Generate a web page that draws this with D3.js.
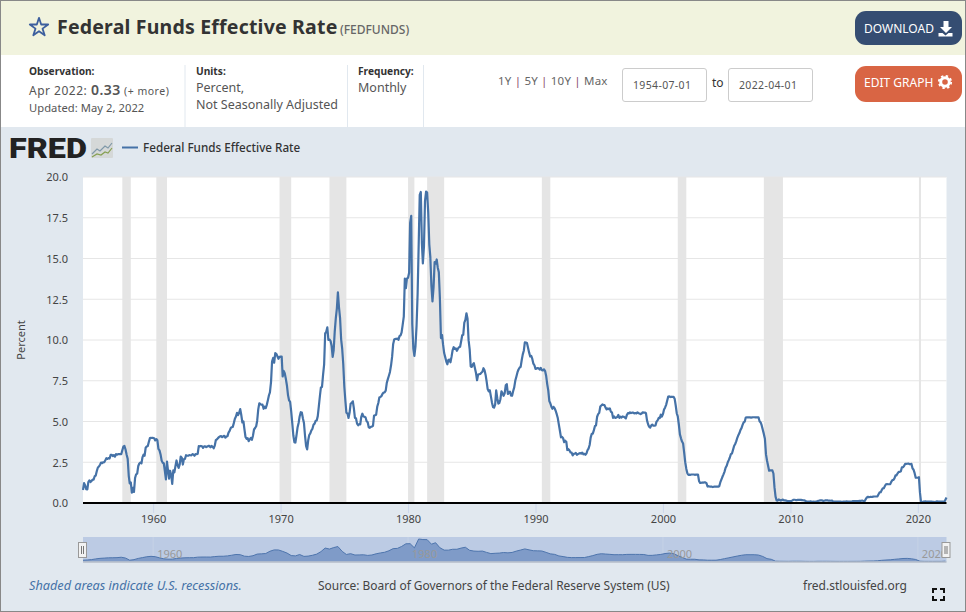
<!DOCTYPE html>
<html>
<head>
<meta charset="utf-8">
<title>Federal Funds Effective Rate</title>
<script src="https://cdn.jsdelivr.net/npm/d3@7"></script>
<style>
  html, body { margin: 0; padding: 0; background: #fff; overflow: hidden; }
  svg { display: block; font-family: "Noto Sans", sans-serif; }
  text { fill: #555; }
</style>
</head>
<body>
<script>
// monthly values, one row per calendar year, first row starts in July 1954
var rateValues = [
  0.80,1.22,1.07,0.85,0.83,1.28,
  1.39,1.29,1.35,1.43,1.43,1.64,1.68,1.96,2.18,2.24,2.35,2.48,
  2.45,2.50,2.50,2.62,2.75,2.71,2.75,2.73,2.95,2.96,2.88,2.94,
  2.84,3.00,2.96,3.00,3.00,3.00,2.99,3.24,3.47,3.50,3.28,2.98,
  2.72,1.67,1.20,1.26,0.63,0.93,0.68,1.53,1.76,1.80,2.27,2.42,
  2.48,2.43,2.80,2.96,2.90,3.39,3.47,3.50,3.76,3.98,4.00,3.99,
  3.99,3.97,3.84,3.92,3.85,3.32,3.23,2.98,2.60,2.47,2.44,1.98,
  1.45,2.54,2.02,1.49,1.98,1.73,1.17,2.00,1.88,2.26,2.61,2.33,
  2.15,2.37,2.85,2.78,2.36,2.68,2.71,2.93,2.90,2.90,2.94,2.93,
  2.92,3.00,2.98,2.90,3.00,2.99,3.02,3.49,3.48,3.50,3.48,3.38,
  3.48,3.48,3.43,3.47,3.50,3.50,3.42,3.50,3.45,3.36,3.52,3.85,
  3.90,3.98,4.04,4.09,4.10,4.04,4.09,4.12,4.01,4.08,4.10,4.32,
  4.42,4.60,4.65,4.67,4.90,5.17,5.30,5.53,5.40,5.53,5.76,5.40,
  4.94,5.00,4.53,4.05,3.94,3.98,3.79,3.90,3.99,3.88,4.13,4.51,
  4.60,4.71,5.05,5.76,6.12,6.07,6.03,6.03,5.78,5.91,5.82,6.02,
  6.30,6.61,6.79,7.41,8.67,8.90,8.61,9.19,9.15,9.00,8.85,8.97,
  8.98,8.98,7.76,8.10,7.95,7.61,7.21,6.62,6.29,6.20,5.60,4.90,
  4.14,3.72,3.71,4.15,4.63,4.91,5.31,5.57,5.55,5.20,4.91,4.14,
  3.50,3.29,3.83,4.17,4.27,4.46,4.55,4.80,4.87,5.04,5.06,5.33,
  5.94,6.58,7.09,7.12,7.84,8.49,10.40,10.50,10.78,10.01,10.03,9.95,
  9.65,8.97,9.35,10.51,11.31,11.93,12.92,12.01,11.34,10.06,9.45,8.53,
  7.13,6.24,5.54,5.49,5.22,5.55,6.10,6.14,6.24,5.82,5.22,5.20,
  4.87,4.77,4.84,4.82,5.29,5.48,5.31,5.29,5.25,5.02,4.95,4.65,
  4.61,4.68,4.69,4.73,5.35,5.39,5.42,5.90,6.14,6.47,6.51,6.56,
  6.70,6.78,6.79,6.89,7.36,7.60,7.81,8.04,8.45,8.96,9.76,10.03,
  10.07,10.06,10.09,10.01,10.24,10.29,10.47,10.94,11.43,13.77,13.18,13.78,
  13.82,14.13,17.19,17.61,10.98,9.47,9.03,9.61,10.87,12.81,15.85,18.90,
  19.08,15.93,14.70,15.72,18.52,19.10,19.04,17.82,15.87,15.08,13.31,12.37,
  13.22,14.78,14.68,14.94,14.45,14.15,12.59,10.12,10.31,9.71,9.20,8.95,
  8.68,8.51,8.77,8.80,8.63,8.98,9.37,9.56,9.45,9.48,9.34,9.47,
  9.56,9.59,9.91,10.29,10.32,11.06,11.23,11.64,11.30,9.99,9.43,8.38,
  8.35,8.50,8.58,8.27,7.97,7.53,7.88,7.90,7.92,7.99,8.05,8.27,
  8.14,7.86,7.48,6.99,6.85,6.92,6.56,6.17,5.89,5.85,6.04,6.91,
  6.43,6.10,6.13,6.37,6.85,6.73,6.58,6.73,7.22,7.29,6.69,6.77,
  6.83,6.58,6.58,6.87,7.09,7.51,7.75,8.01,8.19,8.30,8.35,8.76,
  9.12,9.36,9.85,9.84,9.81,9.53,9.24,8.99,9.02,8.84,8.55,8.45,
  8.23,8.24,8.28,8.26,8.18,8.29,8.15,8.13,8.20,8.11,7.81,7.31,
  6.91,6.25,6.12,5.91,5.78,5.90,5.82,5.66,5.45,5.21,4.81,4.43,
  4.03,4.06,3.98,3.73,3.82,3.76,3.25,3.30,3.22,3.10,3.09,2.92,
  3.02,3.03,3.07,2.96,3.00,3.04,3.06,3.03,3.09,2.99,3.02,2.96,
  3.05,3.25,3.34,3.56,4.01,4.25,4.26,4.47,4.73,4.76,5.29,5.45,
  5.53,5.92,5.98,6.05,6.01,6.00,5.85,5.74,5.80,5.76,5.80,5.60,
  5.56,5.22,5.31,5.22,5.24,5.27,5.40,5.22,5.30,5.24,5.31,5.29,
  5.25,5.19,5.39,5.51,5.50,5.56,5.52,5.54,5.54,5.50,5.52,5.50,
  5.56,5.51,5.49,5.45,5.49,5.56,5.54,5.55,5.51,5.07,4.83,4.68,
  4.63,4.76,4.81,4.74,4.74,4.76,4.99,5.07,5.22,5.20,5.42,5.30,
  5.45,5.73,5.85,6.02,6.27,6.53,6.54,6.50,6.52,6.51,6.51,6.40,
  5.98,5.49,5.31,4.80,4.21,3.97,3.77,3.65,3.07,2.49,2.09,1.82,
  1.73,1.74,1.73,1.75,1.75,1.75,1.73,1.74,1.75,1.75,1.34,1.24,
  1.24,1.26,1.25,1.26,1.26,1.22,1.01,1.03,1.01,1.01,1.00,0.98,
  1.00,1.01,1.00,1.00,1.00,1.03,1.26,1.43,1.61,1.76,1.93,2.16,
  2.28,2.50,2.63,2.79,3.00,3.04,3.26,3.50,3.62,3.78,4.00,4.16,
  4.29,4.49,4.59,4.79,4.94,4.99,5.24,5.25,5.25,5.25,5.25,5.24,
  5.25,5.26,5.26,5.25,5.25,5.25,5.26,5.02,4.94,4.76,4.49,4.24,
  3.94,2.98,2.61,2.28,1.98,2.00,2.01,2.00,1.81,0.97,0.39,0.16,
  0.15,0.22,0.18,0.15,0.18,0.21,0.16,0.16,0.15,0.12,0.12,0.12,
  0.11,0.13,0.16,0.20,0.20,0.18,0.18,0.19,0.19,0.19,0.19,0.18,
  0.17,0.16,0.14,0.10,0.09,0.09,0.07,0.10,0.08,0.07,0.08,0.07,
  0.08,0.10,0.13,0.14,0.16,0.16,0.16,0.13,0.14,0.16,0.16,0.16,
  0.14,0.15,0.14,0.15,0.11,0.09,0.09,0.08,0.08,0.09,0.08,0.09,
  0.07,0.07,0.08,0.09,0.09,0.10,0.09,0.09,0.09,0.09,0.09,0.12,
  0.11,0.11,0.11,0.12,0.12,0.13,0.13,0.14,0.14,0.12,0.12,0.24,
  0.34,0.38,0.36,0.37,0.37,0.38,0.39,0.40,0.40,0.40,0.41,0.54,
  0.65,0.66,0.79,0.90,0.91,1.04,1.15,1.16,1.15,1.15,1.16,1.30,
  1.41,1.42,1.51,1.69,1.70,1.82,1.91,1.91,1.95,2.19,2.20,2.27,
  2.40,2.40,2.41,2.42,2.39,2.38,2.40,2.13,2.04,1.83,1.55,1.55,
  1.55,1.58,0.65,0.05,0.05,0.08,0.09,0.10,0.09,0.09,0.09,0.09,
  0.09,0.08,0.07,0.07,0.06,0.08,0.10,0.09,0.08,0.08,0.08,0.08,
  0.08,0.08,0.20,0.33
];

var recessionStarts = ["1957-08-01","1960-04-01","1969-12-01","1973-11-01","1980-01-01",
  "1981-07-01","1990-07-01","2001-03-01","2007-12-01","2020-02-01"];
var recessionEnds = ["1958-04-01","1961-02-01","1970-11-01","1975-03-01","1980-07-01",
  "1982-11-01","1991-03-01","2001-11-01","2009-06-01","2020-04-01"];

var yTicks = [0, 2.5, 5, 7.5, 10, 12.5, 15, 17.5, 20];
var xTickYears = [1960, 1970, 1980, 1990, 2000, 2010, 2020];
var navTickYears = [1960, 1980, 2000, 2020];

var width = 966;
var height = 612;
var left = 83;
var right = 946.5;
var parseDate = d3.timeParse("%Y-%m-%d");
var firstMonth = parseDate("1954-07-01");
var months = rateValues.map(function(d, i) { return d3.timeMonth.offset(firstMonth, i); });
var yearDate = function(y) { return new Date(y, 0, 1); };

// the navigator shows the series grouped into four month blocks
var navBlocks = d3.range(0, rateValues.length, 4).map(function(i) {
  return { date: months[i], value: d3.mean(rateValues.slice(i, i + 4)) };
});

var xScale = d3.scaleTime()
  .domain([firstMonth, months[months.length - 1]])
  .range([left, right]);

var yScale = d3.scaleLinear()
  .domain([0, 20])
  .range([503, 177]);

var navY = d3.scaleLinear()
  .domain([0, d3.max(navBlocks, function(d) { return d.value; })])
  .range([561.5, 539]);

var svg = d3.select("body")
  .append("svg")
  .attr("width", width)
  .attr("height", height);

function label(x, y, str, size, opts) {
  opts = opts || {};
  return svg.append("text")
    .attr("x", x)
    .attr("y", y)
    .attr("font-size", size + "px")
    .attr("font-weight", opts.weight || 400)
    .attr("font-style", opts.style || "normal")
    .attr("letter-spacing", opts.spacing || 0)
    .attr("text-anchor", opts.anchor || "start")
    .style("fill", opts.fill || "#555")
    .text(str);
}

// page panels
svg.append("rect").attr("width", width).attr("height", height).attr("fill", "#fff");
svg.append("rect").attr("width", width).attr("height", 55).attr("fill", "#f1f3de");
svg.append("rect").attr("y", 127).attr("width", width).attr("height", height - 127).attr("fill", "#e1e8ef");

// header
svg.append("path")
  .attr("d", d3.symbol().type(d3.symbolStar).size(105))
  .attr("transform", "translate(39,27.5)")
  .attr("fill", "none")
  .attr("stroke", "#3d5f9e")
  .attr("stroke-width", 1.8)
  .attr("stroke-linejoin", "round");
label(57, 34, "Federal Funds Effective Rate", 19.5, { weight: 700, fill: "#333", spacing: 0.2 });
label(340, 34, "(FEDFUNDS)", 12, { weight: 500, fill: "#666" });

// download button
svg.append("rect").attr("x", 855).attr("y", 11).attr("width", 107).attr("height", 34).attr("rx", 11).attr("fill", "#354d72");
label(864, 33, "DOWNLOAD", 12, { fill: "#fff" });
svg.append("path")
  .attr("d", "M943.5 21h5v6h3.5l-6 6-6-6h3.5zM938.5 33h4l3 2.5 3-2.5h4v3.5h-14z")
  .attr("fill", "#fff");

// edit button
svg.append("rect").attr("x", 855).attr("y", 66).attr("width", 107).attr("height", 36).attr("rx", 11).attr("fill", "#d96544");
label(864, 87, "EDIT GRAPH", 12, { fill: "#fff" });
svg.append("circle").attr("cx", 945).attr("cy", 82).attr("r", 4.3)
  .attr("fill", "none").attr("stroke", "#fff").attr("stroke-width", 3);
svg.append("circle").attr("cx", 945).attr("cy", 82).attr("r", 6.2)
  .attr("fill", "none").attr("stroke", "#fff").attr("stroke-width", 1.8).attr("stroke-dasharray", "2.4 2.47");

// meta columns
[185, 347.5, 423.5].forEach(function(x) {
  svg.append("line").attr("x1", x).attr("x2", x).attr("y1", 65).attr("y2", 127)
    .attr("stroke", "#e1e8ef").attr("stroke-width", 1);
});
label(29, 75, "Observation:", 10.2, { weight: 700, fill: "#333" });
var obs = label(29, 95, "Apr 2022: ", 12, { spacing: 0.5 });
obs.append("tspan").attr("font-size", "14px").attr("font-weight", 600).text("0.33");
obs.append("tspan").attr("font-size", "10.5px").text(" (+ more)");
label(29, 112, "Updated: May 2, 2022", 11.2, { spacing: 0.05 });
label(196, 75, "Units:", 10.2, { weight: 700, fill: "#333" });
label(196, 92, "Percent,", 12.5);
label(196, 109, "Not Seasonally Adjusted", 12.5);
label(358, 75, "Frequency:", 10.2, { weight: 700, fill: "#333" });
label(358, 92, "Monthly", 12.5);

// range selector
var range = label(498, 85, "1Y", 11.5, { spacing: 0.2, fill: "#666" });
[" 5Y ", " 10Y ", " Max"].forEach(function(s) {
  range.append("tspan").style("fill", "#8a4a6a").text(" |");
  range.append("tspan").text(s);
});
[[622, "1954-07-01"], [728, "2022-04-01"]].forEach(function(d) {
  svg.append("rect").attr("x", d[0] + 0.5).attr("y", 68.5).attr("width", 84).attr("height", 33).attr("rx", 2.5)
    .attr("fill", "#fff").attr("stroke", "#ccc");
  label(d[0] + 11, 89, d[1], 10.5, { spacing: 0.35, fill: "#555" });
});
label(712, 87, "to", 12, { fill: "#333" });

// logo and legend
label(9, 158, "FRED", 28, { weight: 900, fill: "#222" })
  .style("font-family", "Roboto, sans-serif")
  .attr("textLength", 78)
  .attr("lengthAdjust", "spacingAndGlyphs");
svg.append("rect").attr("x", 91).attr("y", 138).attr("width", 22).attr("height", 20).attr("rx", 1).attr("fill", "#d5d8d8");
svg.append("path").attr("d", "M92 154l5-5 3 2 5-5 3 2 4-5").attr("fill", "none").attr("stroke", "#7f98a8").attr("stroke-width", 1.2);
svg.append("path").attr("d", "M92 157l5-3 4 1 4-3 3 1 4-5").attr("fill", "none").attr("stroke", "#86a052").attr("stroke-width", 1.2);
svg.append("line").attr("x1", 122).attr("x2", 138).attr("y1", 147.5).attr("y2", 147.5).attr("stroke", "#4572a7").attr("stroke-width", 2);
label(143, 152, "Federal Funds Effective Rate", 11.7, { weight: 500, fill: "#333" });

// plot
svg.append("rect").attr("x", left).attr("y", 177).attr("width", right - left).attr("height", 326).attr("fill", "#fff");

svg.append("g")
  .selectAll("line")
  .data(yTicks)
  .enter()
  .append("line")
  .attr("x1", left)
  .attr("x2", right)
  .attr("y1", function(d) { return yScale(d); })
  .attr("y2", function(d) { return yScale(d); })
  .attr("stroke", "#e6e6e6")
  .attr("stroke-width", 1);

svg.append("g")
  .selectAll("rect")
  .data(recessionStarts)
  .enter()
  .append("rect")
  .attr("x", function(d) { return xScale(parseDate(d)); })
  .attr("y", 177)
  .attr("width", function(d, i) { return xScale(parseDate(recessionEnds[i])) - xScale(parseDate(d)); })
  .attr("height", 326)
  .attr("fill", "#e5e5e5");

var yAxis = d3.axisLeft(yScale)
  .tickValues(yTicks)
  .tickSize(0)
  .tickFormat(d3.format(".1f"));
var yAxisG = svg.append("g").attr("transform", "translate(" + (left - 15) + ",0)").call(yAxis);
yAxisG.select(".domain").remove();
yAxisG.selectAll("text").attr("font-size", "11px").attr("font-family", "\"Noto Sans\", sans-serif").attr("dy", "0.35em").attr("x", 0).style("fill", "#444");

var xAxis = d3.axisBottom(xScale)
  .tickValues(xTickYears.map(yearDate))
  .tickSize(10)
  .tickFormat(d3.timeFormat("%Y"));
var xAxisG = svg.append("g").attr("transform", "translate(0,503)").call(xAxis);
xAxisG.select(".domain").remove();
xAxisG.selectAll("line").attr("stroke", "#ccd6eb");
xAxisG.selectAll("text").attr("font-size", "11px").attr("font-family", "\"Noto Sans\", sans-serif").attr("y", 12).attr("dy", "0.71em").style("fill", "#444");

label(0, 0, "Percent", 11, { anchor: "middle", fill: "#444" })
  .attr("transform", "translate(25,340) rotate(-90)");

var rateLine = d3.line()
  .x(function(d, i) { return xScale(months[i]); })
  .y(function(d) { return yScale(d); });

svg.append("path")
  .datum(rateValues)
  .attr("d", rateLine)
  .attr("fill", "none")
  .attr("stroke", "#4572a7")
  .attr("stroke-width", 2.2)
  .attr("stroke-linejoin", "round");

svg.append("line").attr("x1", left).attr("x2", right).attr("y1", 503).attr("y2", 503)
  .attr("stroke", "#000").attr("stroke-width", 2);

// navigator
svg.append("rect").attr("x", left).attr("y", 537).attr("width", right - left).attr("height", 25).attr("fill", "#bccbe4");
svg.append("g")
  .selectAll("line")
  .data(navTickYears)
  .enter()
  .append("line")
  .attr("x1", function(d) { return xScale(yearDate(d)); })
  .attr("x2", function(d) { return xScale(yearDate(d)); })
  .attr("y1", 537)
  .attr("y2", 562)
  .attr("stroke", "#c6d2e6");

var navArea = d3.area()
  .x(function(d) { return xScale(d.date); })
  .y0(561.5)
  .y1(function(d) { return navY(d.value); });
svg.append("path").datum(navBlocks).attr("d", navArea).attr("fill", "#7f9bc8");
svg.append("path").datum(navBlocks)
  .attr("d", d3.line().x(function(d) { return xScale(d.date); }).y(function(d) { return navY(d.value); }))
  .attr("fill", "none").attr("stroke", "#4e75ad").attr("stroke-width", 1);
svg.append("line").attr("x1", left).attr("x2", right).attr("y1", 562).attr("y2", 562).attr("stroke", "#b5bdc9").attr("stroke-width", 1.5);

svg.append("g")
  .selectAll("text")
  .data(navTickYears)
  .enter()
  .append("text")
  .attr("x", function(d) { return xScale(yearDate(d)) + 4; })
  .attr("y", 558)
  .attr("font-size", "11px")
  .style("fill", "#999")
  .text(function(d) { return d; });

[left - 4.5, right - 4.5].forEach(function(x) {
  svg.append("rect").attr("x", x).attr("y", 542.5).attr("width", 8).attr("height", 15)
    .attr("fill", "#f2f2f2").attr("stroke", "#999");
  svg.append("path").attr("d", "M" + (x + 3) + " 546v8M" + (x + 5) + " 546v8").attr("stroke", "#777").attr("fill", "none");
});

// footer
label(29, 590, "Shaded areas indicate U.S. recessions.", 12.7, { style: "italic", fill: "#4572a7" });
label(318, 590, "Source: Board of Governors of the Federal Reserve System (US)", 11.95, { fill: "#444" });
label(803, 590, "fred.stlouisfed.org", 12, { fill: "#444" });
svg.append("path")
  .attr("d", "M933 593v-4h4M940 589h4v4M944 596v4h-4M937 600h-4v-4")
  .attr("fill", "none").attr("stroke", "#111").attr("stroke-width", 2);

// outer border
svg.append("rect").attr("x", 0.5).attr("y", 0.5).attr("width", width - 1).attr("height", height - 1)
  .attr("fill", "none").attr("stroke", "#888").attr("stroke-width", 1);
</script>
</body>
</html>
